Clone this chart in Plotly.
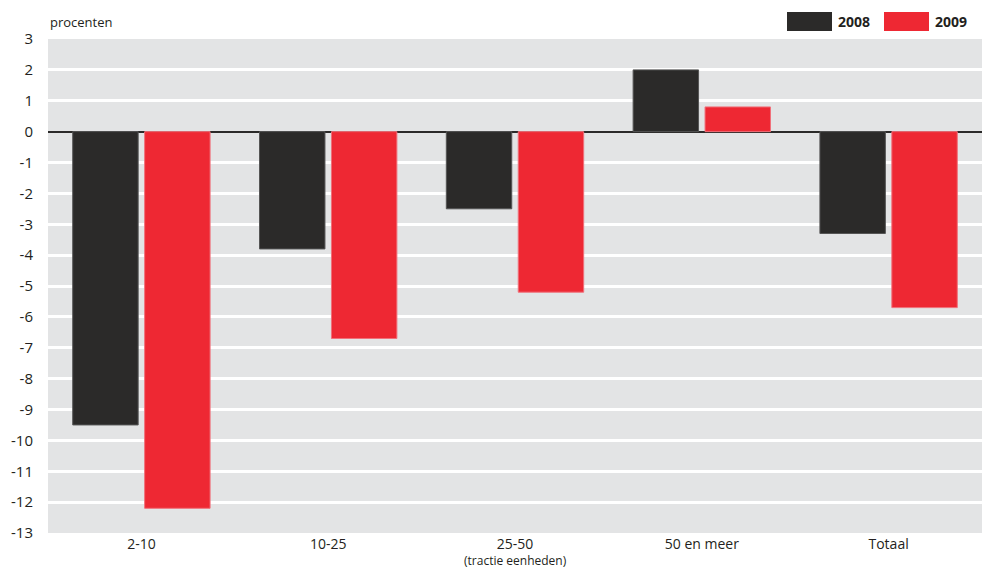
import plotly.graph_objects as go

categories = ["2-10", "10-25", "25-50", "50 en meer", "Totaal"]
values_2008 = [-9.5, -3.8, -2.5, 2.0, -3.3]
values_2009 = [-12.2, -6.7, -5.2, 0.8, -5.7]
y_ticks = list(range(-13, 4))
y_labels = [str(v) for v in y_ticks]  # plain hyphen minus as in the original

black = "#2b2a29"
red = "#ee2833"
font = "Open Sans, Noto Sans, sans-serif"

fig = go.Figure()
fig.add_trace(go.Bar(x=categories, y=values_2008, name="2008",
                     marker=dict(color=black, line=dict(color="#555555", width=1))))
fig.add_trace(go.Bar(x=categories, y=values_2009, name="2009",
                     marker=dict(color=red, line=dict(color="#f0707a", width=1))))

fig.update_layout(
    width=982, height=569,
    margin=dict(l=48, r=0, t=39, b=36),
    paper_bgcolor="white", plot_bgcolor="#e3e4e5",
    barmode="group", bargap=0.23, bargroupgap=0.09,
    showlegend=False,
    font=dict(family=font, size=15, color="#231f20"),
)
fig.update_xaxes(showgrid=False, ticks="", tickfont=dict(size=14),
                 ticklabelstandoff=1)
fig.update_yaxes(range=[-13, 3], tickvals=y_ticks, ticktext=y_labels, showgrid=True,
                 gridcolor="white", gridwidth=3,
                 zeroline=True, zerolinecolor=black, zerolinewidth=2,
                 ticks="", ticklabelstandoff=14, tickfont=dict(size=15))

# y-axis unit and sub label
fig.add_annotation(text="procenten", xref="paper", yref="paper", x=0, y=1,
                   xanchor="left", yanchor="bottom", yshift=6, showarrow=False,
                   font=dict(size=13))
fig.add_annotation(text="(tractie eenheden)", xref="x", yref="paper", x="25-50", y=0,
                   xanchor="center", yanchor="top", yshift=-17, showarrow=False,
                   font=dict(size=12))

# custom legend top right
for x0, col, lab in [(787, black, "2008"), (884, red, "2009")]:
    fig.add_shape(type="rect", xref="paper", yref="paper",
                  x0=(x0 - 48) / 934, x1=(x0 + 45 - 48) / 934,
                  y0=(533 - 31) / 494, y1=(533 - 12) / 494,
                  fillcolor=col, line=dict(width=0))
    fig.add_annotation(text="<b>" + lab + "</b>", xref="paper", yref="paper",
                       x=(x0 + 49 - 48) / 934, y=(533 - 21.5) / 494,
                       xanchor="left", yanchor="middle", showarrow=False,
                       font=dict(size=14))

fig.write_html("out.html", config={"displayModeBar": False},
               post_script="document.body.style.margin='0';")
